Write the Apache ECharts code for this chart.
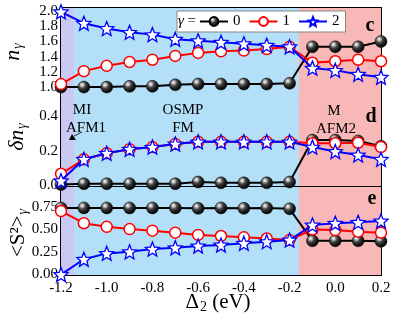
<!DOCTYPE html>
<html>
<head>
<meta charset="utf-8">
<script src="https://cdn.jsdelivr.net/npm/echarts@6/dist/echarts.min.js"></script>
<style>html,body{margin:0;padding:0;background:#fff}#c{width:399px;height:319px}</style>
</head>
<body>
<div id="c"></div>
<script>
// ---- data ----
var xs = [-1.2,-1.1,-1.0,-0.9,-0.8,-0.7,-0.6,-0.5,-0.4,-0.3,-0.2,-0.1,0.0,0.1,0.2];
var n0 = [1.00,1.00,1.00,1.01,1.01,1.03,1.04,1.04,1.04,1.04,1.05,1.53,1.53,1.53,1.60];
var n1 = [1.04,1.21,1.28,1.33,1.36,1.41,1.45,1.47,1.48,1.50,1.53,1.32,1.34,1.36,1.34];
var n2 = [1.99,1.84,1.77,1.72,1.69,1.63,1.61,1.59,1.57,1.55,1.53,1.25,1.22,1.17,1.13];
var dn0 = [0.005,0.01,0.01,0.01,0.01,0.01,0.02,0.015,0.015,0.015,0.02,0.26,0.26,0.255,0.225];
var dn1 = [0.067,0.15,0.185,0.208,0.22,0.238,0.25,0.25,0.25,0.25,0.25,0.242,0.242,0.245,0.22];
var dn2 = [0.027,0.15,0.185,0.208,0.22,0.238,0.25,0.25,0.25,0.25,0.25,0.22,0.195,0.175,0.15];
var s0 = [0.74,0.74,0.74,0.74,0.74,0.74,0.735,0.74,0.735,0.74,0.73,0.375,0.375,0.375,0.37];
var s1 = [0.705,0.57,0.53,0.505,0.487,0.465,0.44,0.428,0.413,0.40,0.383,0.50,0.494,0.476,0.465];
var s2 = [0.0,0.17,0.235,0.253,0.283,0.298,0.317,0.328,0.347,0.365,0.383,0.55,0.57,0.58,0.595];
var names = ['0','1','2'];
var xLabelTicks = [-1.2,-1.0,-0.8,-0.6,-0.4,-0.2,0.0,0.2];
var xAllTicks = [-1.2,-1.1,-1.0,-0.9,-0.8,-0.7,-0.6,-0.5,-0.4,-0.3,-0.2,-0.1,0.0,0.1,0.2];
var nTicks = [1.0,1.2,1.4,1.6,1.8,2.0];
var nMinor = [0.9,1.1,1.3,1.5,1.7,1.9];
var dnTicks = [0.0,0.2,0.4];
var dnMinor = [0.1,0.3,0.5];
var sTicks = [0.00,0.25,0.50,0.75];
var sMinor = [0.125,0.375,0.625,0.875];
var regionBounds = [-1.2,-1.143,-0.159,0.2];
var regionColors = ['#c9c9f3','#b3e0f8','#f9b8b8'];

var FONT = 'Liberation Serif';
var chart = echarts.init(document.getElementById('c'));

var grids = [
  {left:61, top:8, width:320, height:89},
  {left:61, top:97, width:320, height:89},
  {left:61, top:187, width:320, height:88}
];
var yCfg = [
  {min:0.87, max:2.04, major:nTicks, minor:nMinor, dec:1, data:[n0,n1,n2]},
  {min:-0.003, max:0.507, major:dnTicks, minor:dnMinor, dec:1, data:[dn0,dn1,dn2]},
  {min:-0.005, max:0.972, major:sTicks, minor:sMinor, dec:2, data:[s0,s1,s2]}
];
var axLine = {show:true, onZero:false, lineStyle:{color:'#000', width:2}};
var xAxes = [], yAxes = [], series = [];
var sphere = {type:'radial', x:0.36, y:0.32, r:0.72, colorStops:[{offset:0,color:'#ffffff'},{offset:0.12,color:'#d0d0d0'},{offset:0.4,color:'#444'},{offset:0.75,color:'#111'},{offset:1,color:'#000'}]};
var star = 'path://M0,-10 L2.6,-3.6 L9.51,-3.09 L4.2,1.4 L5.88,8.09 L0,4.4 L-5.88,8.09 L-4.2,1.4 L-9.51,-3.09 L-2.6,-3.6 Z';
var styles = [
  {color:'#000', symbol:'circle', size:12, fill:sphere, border:'#000', bw:0.5},
  {color:'#ff0000', symbol:'circle', size:11, fill:'#fff', border:'#ff0000', bw:1.5},
  {color:'#0000ff', symbol:star, size:14, fill:'#fff', border:'#0000ff', bw:1.3}
];

for (var g=0; g<3; g++) {
  var last = g===2;
  xAxes.push({gridIndex:g, type:'value', min:-1.2, max:0.2, position:'bottom',
    axisLine:axLine, splitLine:{show:false},
    axisTick:{show:true, inside:true, length:5, customValues:xAllTicks, lineStyle:{width:1.5,color:'#000'}},
    axisLabel:{show:last, customValues:xLabelTicks, formatter:function(v){return v.toFixed(1);}, fontFamily:FONT, fontSize:15, color:'#000', margin:6}
  });
  xAxes.push({gridIndex:g, type:'value', min:-1.2, max:0.2, position:'top',
    axisLine:axLine, splitLine:{show:false},
    axisTick:{show:true, inside:true, length:5, customValues:xAllTicks, lineStyle:{width:1.5,color:'#000'}},
    axisLabel:{show:false}
  });
  (function(c){
    yAxes.push({gridIndex:g, type:'value', min:c.min, max:c.max, position:'left',
      axisLine:axLine, splitLine:{show:false},
      axisTick:{show:true, inside:true, length:6, customValues:c.major, lineStyle:{width:1.5,color:'#000'}},
      axisLabel:{show:true, customValues:c.major, formatter:function(v){return v.toFixed(c.dec);}, fontFamily:FONT, fontSize:15, color:'#000', margin:3}
    });
    yAxes.push({gridIndex:g, type:'value', min:c.min, max:c.max, position:'left',
      axisLine:{show:false}, splitLine:{show:false},
      axisTick:{show:true, inside:true, length:3, customValues:c.minor, lineStyle:{width:1.5,color:'#000'}},
      axisLabel:{show:false}
    });
    yAxes.push({gridIndex:g, type:'value', min:c.min, max:c.max, position:'right',
      axisLine:axLine, splitLine:{show:false},
      axisTick:{show:true, inside:true, length:5, customValues:c.major, lineStyle:{width:1.5,color:'#000'}},
      axisLabel:{show:false}
    });
  })(yCfg[g]);

  // background regions
  var areas = [];
  for (var r=0; r<regionColors.length; r++) {
    areas.push([{xAxis:regionBounds[r], itemStyle:{color:regionColors[r]}},{xAxis:regionBounds[r+1]}]);
  }
  series.push({type:'line', xAxisIndex:2*g, yAxisIndex:3*g, data:[], z:0, silent:true,
    markArea:{silent:true, data:areas}});

  for (var k=0; k<3; k++) {
    var st = styles[k];
    var arr = yCfg[g].data[k];
    series.push({
      name:names[k], type:'line', xAxisIndex:2*g, yAxisIndex:3*g,
      data: xs.map(function(x,i){return [x, arr[i]];}),
      symbol:st.symbol, symbolSize:st.size, showAllSymbol:true, clip:false,
      lineStyle:{color:st.color, width:2},
      itemStyle:{color:st.fill, borderColor:st.border, borderWidth:st.bw},
      z:3+k, animation:false
    });
  }
}

function tx(x,y,text,size,extra){
  var s = {text:text, x:x, y:y, font:(extra&&extra.font)||(size+'px "'+FONT+'"'), fill:'#000', textAlign:'center', textVerticalAlign:'middle'};
  if (extra && extra.rich) s.rich = extra.rich;
  var o = {type:'text', style:s, z:50};
  if (extra && extra.rotation) o.rotation = extra.rotation;
  if (extra && extra.rotation) { o.x = x; o.y = y; s.x = 0; s.y = 0; }
  return o;
}
var richBase = {
  i:{fontFamily:FONT, fontSize:22, fontStyle:'italic', color:'#000'},
  r:{fontFamily:FONT, fontSize:21, color:'#000'},
  sub:{fontFamily:FONT, fontSize:14, fontStyle:'italic', color:'#000', padding:[10,0,0,1]},
  sub2:{fontFamily:FONT, fontSize:14, color:'#000', padding:[10,0,0,1]}
};

var graphic = [
  tx(13,52,'{i|n}{sub|γ}',22,{rich:richBase, rotation:Math.PI/2}),
  tx(17,137,'{i|δn}{sub|γ}',22,{rich:richBase, rotation:Math.PI/2}),
  tx(18,233,'{r|<S²>}{sub|γ}',22,{rich:richBase, rotation:Math.PI/2}),
  tx(218,302,'{r|Δ}{sub2|2}{r| (eV)}',20,{rich:richBase}),
  tx(370,26,'c',20,{font:'bold 20px "'+FONT+'"'}),
  tx(371,117,'d',20,{font:'bold 20px "'+FONT+'"'}),
  tx(372,199,'e',20,{font:'bold 20px "'+FONT+'"'}),
  tx(82,110,'MI',15),
  tx(86,128,'AFM1',15),
  tx(183,110,'OSMP',15),
  tx(183,128,'FM',15),
  tx(334,111,'M',15),
  tx(336,129,'AFM2',15),
  tx(187,21,'{g|γ}{e| =}',15,{rich:{g:{fontFamily:FONT,fontSize:15,fontStyle:'italic'},e:{fontFamily:FONT,fontSize:15}}}),
  {type:'line', shape:{x1:82,y1:132,x2:74,y2:136}, style:{stroke:'#000', lineWidth:0.8}, z:50},
  {type:'polygon', shape:{points:[[72,134],[69,140],[76,140]]}, style:{fill:'#000'}, z:50}
];

chart.setOption({
  animation:false,
  grid:grids,
  xAxis:xAxes,
  yAxis:yAxes,
  legend:{show:true, data:names, left:177, top:11, padding:[3,6,3,22], itemWidth:28, itemHeight:11, itemGap:8,
    backgroundColor:'#fff', borderColor:'#888', borderWidth:1, borderRadius:0,
    textStyle:{fontFamily:FONT, fontSize:15, color:'#000'}, z:20},
  graphic:graphic,
  series:series
});
</script>
</body>
</html>
